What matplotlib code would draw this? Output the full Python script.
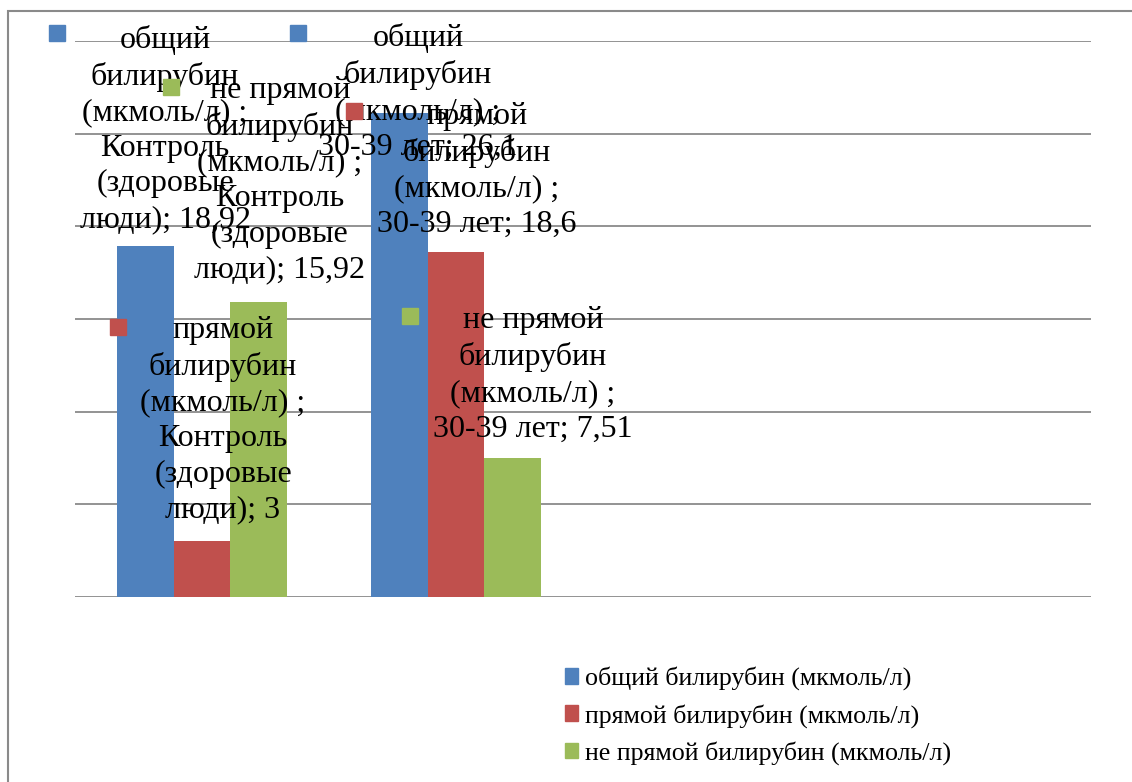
import matplotlib
matplotlib.use("Agg")
import matplotlib.pyplot as plt
import matplotlib.patches as mpatches
import matplotlib.transforms as mtransforms
import numpy as np

plt.rcParams["font.family"] = ["Liberation Serif", "DejaVu Serif"]

# ── Data ──────────────────────────────────────────────────────────────────
categories = ["Контроль (здоровые люди)", "30-39 лет", "", ""]
series = ["общий билирубин (мкмоль/л)",
          "прямой билирубин (мкмоль/л)",
          "не прямой билирубин (мкмоль/л)"]
total_vals = [18.92, 26.1]
direct_vals = [3, 18.6]
indirect_vals = [15.92, 7.51]
value_text = [["18,92", "26,1"], ["3", "18,6"], ["15,92", "7,51"]]

COLOURS = ["#4F81BD", "#C0504D", "#9BBB59"]

# label styling: text offset (px) from bar top, key offset (px) from bar top
LABEL_POS = {
    (0, 0): ((20, 117), (-88, 213)),
    (0, 1): ((19, 21), (-101, 80)),
    (1, 0): ((21, 121), (-84, 214)),
    (1, 1): ((21, 82), (-102, 141)),
    (2, 0): ((21, 122), (-88, 215)),
    (2, 1): ((20, 83), (-103, 142)),
}
WRAP = {
    0: ["общий", "билирубин", "(мкмоль/л) ;"],
    1: ["прямой", "билирубин", "(мкмоль/л) ;"],
    2: ["не прямой", "билирубин", "(мкмоль/л) ;"],
}
CAT_WRAP = [["Контроль", "(здоровые", "люди); "], ["30-39 лет; "]]

W, H = 1132, 782
fig = plt.figure(figsize=(W / 100, H / 100), dpi=100)
fig.patch.set_facecolor("white")
ax = fig.add_axes([75 / W, (H - 597) / H, 1016 / W, 556 / H])

x = np.arange(len(categories))
bw = 0.2244
all_vals = [total_vals, direct_vals, indirect_vals]
for s, vals in enumerate(all_vals):
    xs = x[:len(vals)] + (s - 1) * bw
    ax.bar(xs, vals, width=bw, color=COLOURS[s], zorder=2)

ax.set_xlim(-0.5, len(categories) - 0.5)
ax.set_ylim(0, 30)
ax.set_yticks(np.arange(0, 31, 5))
ax.yaxis.grid(True, color="#8a8a8a", linewidth=1.3, zorder=1)
ax.set_axisbelow(True)
ax.set_xticks([])
ax.tick_params(left=False, labelleft=False)
for sp in ax.spines.values():
    sp.set_visible(False)

# ── Data labels with legend keys ─────────────────────────────────────────
for s, vals in enumerate(all_vals):
    for c, v in enumerate(vals):
        bx = x[c] + (s - 1) * bw
        (tdx, tdy), (kdx, kdy) = LABEL_POS[(s, c)]
        lines = WRAP[s] + CAT_WRAP[c][:-1] + [CAT_WRAP[c][-1] + value_text[s][c]]
        ax.annotate("\n".join(lines), (bx, v), xytext=(tdx, tdy),
                    textcoords="offset pixels", ha="center", va="center",
                    fontsize=23, linespacing=1.3, color="black",
                    zorder=4, annotation_clip=False)
        tr = mtransforms.offset_copy(ax.transData, fig=fig, x=kdx, y=kdy,
                                     units="dots")
        ax.plot([bx], [v], marker="s", ms=11.5, color=COLOURS[s],
                transform=tr, clip_on=False, zorder=5)

# ── Legend ────────────────────────────────────────────────────────────────
handles = [mpatches.Patch(color=COLOURS[i], label=series[i]) for i in range(3)]
fig.legend(handles=handles, loc="upper left",
           bbox_to_anchor=(555 / W, 1 - 656 / H), frameon=False,
           fontsize=18.7, handlelength=0.5, handleheight=0.55,
           handletextpad=0.25, labelspacing=0.52, borderaxespad=0)

# chart border
fig.patches.append(mpatches.Rectangle((8 / W, -0.1), 1.2, 1.1 - 11 / H,
                                      transform=fig.transFigure, fill=False,
                                      edgecolor="#8a8a8a", linewidth=1.5))

fig.savefig("out.png", dpi=100, facecolor="white")
